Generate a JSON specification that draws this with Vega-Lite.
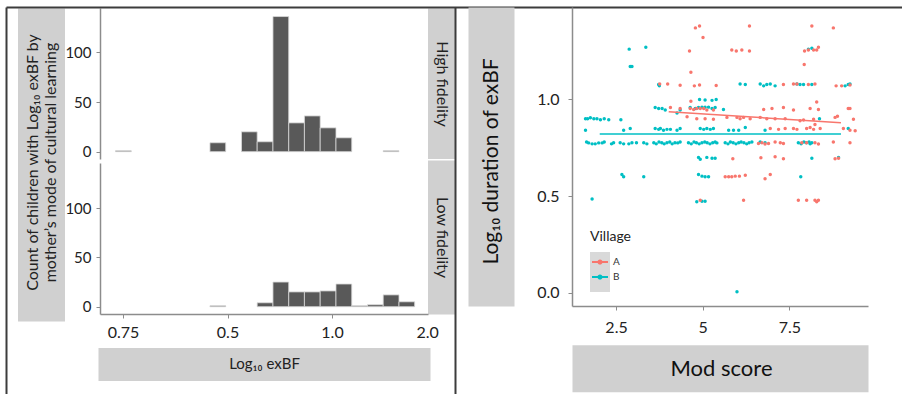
{
"$schema": "https://vega.github.io/schema/vega-lite/v6.json",
"background": "white",
"padding": {"left": 5, "top": -16, "right": 0, "bottom": 0},
"config": {"font": "Lato", "view": {"stroke": null}, "axis": {"grid": false}},
"datasets": {
"hist": [
{"panel":"High fidelity","lo":-0.072,"hi":0.079,"count":1},
{"panel":"High fidelity","lo":0.832,"hi":0.983,"count":9},
{"panel":"High fidelity","lo":1.134,"hi":1.284,"count":20},
{"panel":"High fidelity","lo":1.284,"hi":1.435,"count":10},
{"panel":"High fidelity","lo":1.435,"hi":1.586,"count":136},
{"panel":"High fidelity","lo":1.586,"hi":1.736,"count":29},
{"panel":"High fidelity","lo":1.736,"hi":1.887,"count":36},
{"panel":"High fidelity","lo":1.887,"hi":2.038,"count":24},
{"panel":"High fidelity","lo":2.038,"hi":2.189,"count":14},
{"panel":"High fidelity","lo":2.49,"hi":2.641,"count":1},
{"panel":"Low fidelity","lo":0.832,"hi":0.983,"count":1},
{"panel":"Low fidelity","lo":1.284,"hi":1.435,"count":4},
{"panel":"Low fidelity","lo":1.435,"hi":1.586,"count":25},
{"panel":"Low fidelity","lo":1.586,"hi":1.736,"count":15},
{"panel":"Low fidelity","lo":1.736,"hi":1.887,"count":15},
{"panel":"Low fidelity","lo":1.887,"hi":2.038,"count":16},
{"panel":"Low fidelity","lo":2.038,"hi":2.189,"count":23},
{"panel":"Low fidelity","lo":2.189,"hi":2.339,"count":1},
{"panel":"Low fidelity","lo":2.339,"hi":2.49,"count":2},
{"panel":"Low fidelity","lo":2.49,"hi":2.641,"count":12},
{"panel":"Low fidelity","lo":2.641,"hi":2.791,"count":5}
],
"fit": [
{"v":"A","m":4.02,"d":0.936},{"v":"A","m":8.99,"d":0.879},
{"v":"B","m":2.03,"d":0.821},{"v":"B","m":8.99,"d":0.821}
],
"keys": [
{"k":"a","m":-100,"d":0.5},{"k":"b","m":-100,"d":0.5}
],
"pts": [
{"v":"B","m":2.88,"d":1.26},{"v":"B","m":3.36,"d":1.27},{"v":"B","m":2.91,"d":1.17},{"v":"B","m":2.96,"d":1.17},
{"v":"B","m":1.62,"d":0.9},{"v":"B","m":1.68,"d":0.9},{"v":"B","m":1.76,"d":0.905},{"v":"B","m":1.86,"d":0.9},{"v":"B","m":1.95,"d":0.9},{"v":"B","m":2.05,"d":0.895},{"v":"B","m":2.16,"d":0.9},{"v":"B","m":2.29,"d":0.895},
{"v":"B","m":1.62,"d":0.84},{"v":"B","m":2.64,"d":0.895},{"v":"B","m":2.72,"d":0.84},{"v":"B","m":2.91,"d":0.85},
{"v":"B","m":1.65,"d":0.78},{"v":"B","m":1.71,"d":0.775},{"v":"B","m":1.81,"d":0.77},{"v":"B","m":1.9,"d":0.77},{"v":"B","m":2.0,"d":0.775},{"v":"B","m":2.1,"d":0.775},{"v":"B","m":2.16,"d":0.78},
{"v":"B","m":2.37,"d":0.77},{"v":"B","m":2.43,"d":0.776},{"v":"B","m":2.62,"d":0.776},{"v":"B","m":2.72,"d":0.77},{"v":"B","m":2.87,"d":0.77},{"v":"B","m":2.96,"d":0.776},{"v":"B","m":3.09,"d":0.776},{"v":"B","m":3.3,"d":0.776},{"v":"B","m":3.39,"d":0.77},
{"v":"B","m":3.59,"d":0.776},{"v":"B","m":3.66,"d":0.77},{"v":"B","m":3.74,"d":0.78},{"v":"B","m":3.82,"d":0.776},{"v":"B","m":3.89,"d":0.77},{"v":"B","m":3.97,"d":0.776},{"v":"B","m":4.05,"d":0.78},{"v":"B","m":4.12,"d":0.77},{"v":"B","m":4.2,"d":0.776},{"v":"B","m":4.28,"d":0.775},{"v":"B","m":4.35,"d":0.78},
{"v":"B","m":4.59,"d":0.776},{"v":"B","m":4.67,"d":0.77},{"v":"B","m":4.75,"d":0.78},{"v":"B","m":4.82,"d":0.776},{"v":"B","m":4.9,"d":0.77},{"v":"B","m":4.98,"d":0.776},{"v":"B","m":5.06,"d":0.78},{"v":"B","m":5.13,"d":0.776},{"v":"B","m":5.21,"d":0.77},{"v":"B","m":5.29,"d":0.776},{"v":"B","m":5.36,"d":0.78},{"v":"B","m":5.41,"d":0.775},
{"v":"B","m":5.65,"d":0.776},{"v":"B","m":5.73,"d":0.77},{"v":"B","m":5.8,"d":0.78},{"v":"B","m":5.88,"d":0.776},{"v":"B","m":5.96,"d":0.77},{"v":"B","m":6.04,"d":0.776},{"v":"B","m":6.11,"d":0.78},{"v":"B","m":6.19,"d":0.776},{"v":"B","m":6.27,"d":0.77},{"v":"B","m":6.34,"d":0.776},{"v":"B","m":6.42,"d":0.78},
{"v":"B","m":6.66,"d":0.78},{"v":"B","m":6.8,"d":0.776},
{"v":"B","m":7.76,"d":0.776},{"v":"B","m":7.84,"d":0.77},{"v":"B","m":7.92,"d":0.78},{"v":"B","m":7.99,"d":0.776},{"v":"B","m":8.07,"d":0.78},{"v":"B","m":8.15,"d":0.776},{"v":"B","m":8.1,"d":0.77},
{"v":"B","m":3.63,"d":0.85},{"v":"B","m":3.73,"d":0.845},{"v":"B","m":3.78,"d":0.85},{"v":"B","m":3.87,"d":0.84},{"v":"B","m":3.97,"d":0.845},{"v":"B","m":4.07,"d":0.845},{"v":"B","m":4.26,"d":0.84},{"v":"B","m":4.35,"d":0.85},{"v":"B","m":4.93,"d":0.85},{"v":"B","m":5.03,"d":0.845},{"v":"B","m":5.12,"d":0.85},{"v":"B","m":5.22,"d":0.845},{"v":"B","m":5.31,"d":0.85},{"v":"B","m":5.75,"d":0.84},{"v":"B","m":5.89,"d":0.84},{"v":"B","m":6.04,"d":0.84},{"v":"B","m":6.23,"d":0.855},{"v":"B","m":6.8,"d":0.84},{"v":"B","m":9.2,"d":0.85},
{"v":"B","m":3.63,"d":0.958},{"v":"B","m":3.73,"d":0.953},{"v":"B","m":3.83,"d":0.953},{"v":"B","m":3.92,"d":0.945},{"v":"B","m":4.26,"d":0.93},{"v":"B","m":4.35,"d":0.945},{"v":"B","m":4.64,"d":0.958},{"v":"B","m":4.79,"d":0.953},{"v":"B","m":4.88,"d":0.958},{"v":"B","m":4.98,"d":0.96},{"v":"B","m":5.07,"d":0.96},{"v":"B","m":5.17,"d":0.96},{"v":"B","m":5.27,"d":0.953},{"v":"B","m":5.36,"d":0.958},{"v":"B","m":5.6,"d":0.948},{"v":"B","m":8.37,"d":0.9},
{"v":"B","m":4.91,"d":1.0},{"v":"B","m":5.07,"d":0.997},{"v":"B","m":5.27,"d":0.995},{"v":"B","m":5.39,"d":1.0},
{"v":"B","m":3.73,"d":1.077},{"v":"B","m":3.75,"d":1.07},{"v":"B","m":6.08,"d":1.08},{"v":"B","m":6.23,"d":1.077},{"v":"B","m":6.66,"d":1.08},{"v":"B","m":6.76,"d":1.07},{"v":"B","m":6.85,"d":1.077},{"v":"B","m":6.95,"d":1.08},{"v":"B","m":7.09,"d":1.07},{"v":"B","m":7.72,"d":1.08},{"v":"B","m":7.81,"d":1.077},{"v":"B","m":7.91,"d":1.077},{"v":"B","m":8.15,"d":1.077},{"v":"B","m":9.11,"d":1.07},{"v":"B","m":9.2,"d":1.077},{"v":"B","m":9.25,"d":1.08},
{"v":"B","m":4.88,"d":0.7},{"v":"B","m":4.93,"d":0.69},{"v":"B","m":5.12,"d":0.7},{"v":"B","m":5.27,"d":0.695},{"v":"B","m":5.36,"d":0.695},{"v":"B","m":8.15,"d":0.695},{"v":"B","m":8.92,"d":0.7},
{"v":"B","m":2.67,"d":0.612},{"v":"B","m":2.72,"d":0.6},{"v":"B","m":3.3,"d":0.6},{"v":"B","m":4.88,"d":0.612},{"v":"B","m":4.98,"d":0.603},{"v":"B","m":5.07,"d":0.6},{"v":"B","m":5.17,"d":0.6},{"v":"B","m":7.83,"d":0.6},
{"v":"B","m":8.05,"d":1.26},{"v":"B","m":8.15,"d":1.265},
{"v":"B","m":1.81,"d":0.485},{"v":"B","m":4.83,"d":0.47},{"v":"B","m":4.98,"d":0.473},{"v":"B","m":5.07,"d":0.473},
{"v":"B","m":5.99,"d":0.005},
{"v":"A","m":4.79,"d":1.37},{"v":"A","m":4.91,"d":1.38},{"v":"A","m":5.01,"d":1.32},{"v":"A","m":6.35,"d":1.38},{"v":"A","m":8.15,"d":1.38},{"v":"A","m":8.77,"d":1.37},
{"v":"A","m":4.62,"d":1.25},{"v":"A","m":5.84,"d":1.255},{"v":"A","m":5.97,"d":1.25},{"v":"A","m":6.13,"d":1.255},{"v":"A","m":6.35,"d":1.25},{"v":"A","m":7.94,"d":1.25},{"v":"A","m":8.05,"d":1.255},{"v":"A","m":8.2,"d":1.255},{"v":"A","m":8.29,"d":1.255},{"v":"A","m":8.34,"d":1.27},
{"v":"A","m":4.66,"d":1.14},{"v":"A","m":7.93,"d":1.18},
{"v":"A","m":3.76,"d":1.08},{"v":"A","m":3.99,"d":1.08},{"v":"A","m":4.35,"d":1.073},{"v":"A","m":4.76,"d":1.07},{"v":"A","m":4.91,"d":1.075},{"v":"A","m":5.39,"d":1.072},{"v":"A","m":7.33,"d":1.077},{"v":"A","m":7.62,"d":1.08},{"v":"A","m":7.72,"d":1.08},{"v":"A","m":8.05,"d":1.077},{"v":"A","m":8.24,"d":1.08},{"v":"A","m":8.85,"d":1.07},{"v":"A","m":9.01,"d":1.07},{"v":"A","m":9.25,"d":1.075},
{"v":"A","m":4.66,"d":0.99},{"v":"A","m":8.29,"d":0.987},
{"v":"A","m":4.07,"d":0.958},{"v":"A","m":4.35,"d":0.953},{"v":"A","m":4.64,"d":0.953},{"v":"A","m":4.74,"d":0.948},{"v":"A","m":4.83,"d":0.953},{"v":"A","m":4.93,"d":0.953},{"v":"A","m":5.03,"d":0.953},{"v":"A","m":5.12,"d":0.945},{"v":"A","m":5.31,"d":0.945},{"v":"A","m":6.76,"d":0.948},{"v":"A","m":7.0,"d":0.953},{"v":"A","m":7.33,"d":0.958},{"v":"A","m":7.62,"d":0.945},{"v":"A","m":8.1,"d":0.953},{"v":"A","m":8.34,"d":0.948},{"v":"A","m":9.2,"d":0.953},{"v":"A","m":9.25,"d":0.953},
{"v":"A","m":4.55,"d":0.91},{"v":"A","m":4.83,"d":0.9},{"v":"A","m":5.07,"d":0.9},{"v":"A","m":5.31,"d":0.897},{"v":"A","m":5.7,"d":0.907},{"v":"A","m":5.99,"d":0.907},{"v":"A","m":6.08,"d":0.9},{"v":"A","m":6.18,"d":0.907},{"v":"A","m":6.37,"d":0.9},{"v":"A","m":6.66,"d":0.907},{"v":"A","m":6.85,"d":0.9},{"v":"A","m":7.09,"d":0.9},{"v":"A","m":7.38,"d":0.9},{"v":"A","m":7.81,"d":0.89},{"v":"A","m":7.91,"d":0.893},{"v":"A","m":8.2,"d":0.897},{"v":"A","m":8.24,"d":0.87},{"v":"A","m":8.82,"d":0.907},{"v":"A","m":8.89,"d":0.913},{"v":"A","m":9.35,"d":0.897},
{"v":"A","m":6.95,"d":0.85},{"v":"A","m":7.19,"d":0.845},{"v":"A","m":7.38,"d":0.85},{"v":"A","m":7.62,"d":0.85},{"v":"A","m":7.72,"d":0.845},{"v":"A","m":8.0,"d":0.85},{"v":"A","m":8.1,"d":0.855},{"v":"A","m":8.2,"d":0.845},{"v":"A","m":8.39,"d":0.85},{"v":"A","m":9.06,"d":0.85},{"v":"A","m":9.25,"d":0.84},{"v":"A","m":9.4,"d":0.838},
{"v":"A","m":6.61,"d":0.772},{"v":"A","m":6.71,"d":0.776},{"v":"A","m":6.8,"d":0.769},{"v":"A","m":6.9,"d":0.772},{"v":"A","m":7.09,"d":0.78},{"v":"A","m":7.24,"d":0.776},{"v":"A","m":7.33,"d":0.772},{"v":"A","m":7.86,"d":0.776},{"v":"A","m":8.0,"d":0.776},{"v":"A","m":8.24,"d":0.776},{"v":"A","m":8.34,"d":0.769},{"v":"A","m":8.77,"d":0.78},{"v":"A","m":9.25,"d":0.776},
{"v":"A","m":5.87,"d":0.693},{"v":"A","m":6.68,"d":0.698},{"v":"A","m":7.09,"d":0.703},{"v":"A","m":7.33,"d":0.693},{"v":"A","m":8.82,"d":0.693},{"v":"A","m":8.92,"d":0.695},
{"v":"A","m":5.65,"d":0.6},{"v":"A","m":5.75,"d":0.6},{"v":"A","m":5.84,"d":0.6},{"v":"A","m":5.94,"d":0.603},{"v":"A","m":6.06,"d":0.603},{"v":"A","m":6.23,"d":0.608},{"v":"A","m":6.8,"d":0.59},{"v":"A","m":6.95,"d":0.612},
{"v":"A","m":4.93,"d":0.478},{"v":"A","m":6.18,"d":0.478},{"v":"A","m":7.76,"d":0.478},{"v":"A","m":8.0,"d":0.478},{"v":"A","m":8.24,"d":0.478},{"v":"A","m":8.29,"d":0.47},{"v":"A","m":8.34,"d":0.478}
]
},
"bounds": "flush",
"spacing": 117,
"hconcat": [
{
"width": 449, "height": 387,
"resolve": {"scale": {"y": "independent"}, "axis": {"x": "independent", "y": "independent"}},
"layer": [
{
"data": {"name": "hist"},
"transform": [{"filter": "datum.panel == 'High fidelity'"}],
"mark": {"type": "bar", "fill": "#595959", "stroke": "#d9d9d9", "strokeWidth": 0.8},
"encoding": {
"x": {"field": "lo", "type": "quantitative", "scale": {"domain": [-1.1196, 3.177], "nice": false, "zero": false},
 "axis": {"orient": "bottom", "offset": -235, "values": [-0.22], "domain": false, "labels": false, "tickSize": -151, "tickWidth": 1.5, "tickColor": "#8c8c8c", "title": null, "grid": false}},
"x2": {"field": "hi"},
"y": {"field": "count", "type": "quantitative", "scale": {"domain": [-243.8, 145.6], "nice": false, "zero": false},
 "axis": {"orient": "left", "offset": -94, "values": [0, 50, 100], "domain": false, "tickSize": 4, "tickColor": "#8c8c8c", "labelFontSize": 15, "labelColor": "#222222", "labelPadding": 5, "title": null, "grid": false}},
"y2": {"datum": 0}
}
},
{
"data": {"name": "hist"},
"transform": [{"filter": "datum.panel == 'Low fidelity'"}],
"mark": {"type": "bar", "fill": "#595959", "stroke": "#d9d9d9", "strokeWidth": 0.8},
"encoding": {
"x": {"field": "lo", "type": "quantitative",
 "axis": {"orient": "bottom", "offset": -80, "values": [0, 1, 2, 2.91], "domain": false, "tickSize": 4, "tickColor": {"condition": {"test": "datum.value > 2.5", "value": "transparent"}, "value": "#8c8c8c"}, "labelExpr": "datum.value == 0 ? '0.75' : datum.value == 1 ? '0.5' : datum.value == 2 ? '1.0' : '2.0'", "labelFontSize": 16, "labelColor": "#222222", "labelPadding": 6, "labelFlush": false, "labelOverlap": false, "title": null, "grid": false}},
"x2": {"field": "hi"},
"y": {"field": "count", "type": "quantitative", "scale": {"domain": [-88.4, 303.6], "nice": false, "zero": false},
 "axis": {"orient": "left", "offset": -94, "values": [0, 50, 100], "domain": false, "tickSize": 4, "tickColor": "#8c8c8c", "labelFontSize": 15, "labelColor": "#222222", "labelPadding": 5, "title": null, "grid": false}},
"y2": {"datum": 0}
}
},
{
"data": {"values": [{"g": 0, "f": 0.5}]},
"mark": {"type": "point", "opacity": 0},
"encoding": {
"x": {"field": "g", "type": "quantitative",
 "axis": {"orient": "bottom", "offset": -80, "values": [-0.22], "domain": false, "labels": false, "tickSize": -151, "tickWidth": 1.5, "tickColor": "#8c8c8c", "title": null, "grid": false}},
"y": {"field": "f", "type": "quantitative", "scale": {"domain": [0, 1], "nice": false, "zero": false},
 "axis": {"orient": "left", "offset": -94, "values": [0.2067], "domain": false, "labels": false, "tickSize": -328, "tickWidth": 1.5, "tickColor": "#8c8c8c", "title": null, "grid": false}}
}
},
{
"data": {"values": [{"g": 0, "f": 0.5}]},
"mark": {"type": "point", "opacity": 0},
"encoding": {
"x": {"field": "g", "type": "quantitative",
 "axis": {"orient": "bottom", "offset": -73, "values": [-0.7799], "domain": false, "labels": false, "tickSize": -313, "tickWidth": 47, "tickColor": "#d0d0d0",
  "title": ["Count of children with Log₁₀ exBF by", "mother’s mode of cultural learning"], "titleX": 26.5, "titleY": -159, "titleAngle": 270, "titleAlign": "center", "titleBaseline": "middle", "titleFontSize": 16, "titleFontWeight": "normal", "titleColor": "#222222", "titleLineHeight": 18, "grid": false}},
"y": {"field": "f", "type": "quantitative", "scale": {"domain": [0, 1], "nice": false, "zero": false},
 "axis": {"orient": "left", "offset": -92, "values": [0.0788], "domain": false, "labels": false, "tickSize": -332, "tickWidth": 33, "tickColor": "#d0d0d0",
  "title": "Log₁₀ exBF", "titleX": 166, "titleY": 356.5, "titleAngle": 0, "titleAlign": "center", "titleBaseline": "middle", "titleFontSize": 15, "titleFontWeight": "normal", "titleColor": "#222222", "grid": false}}
}
},
{
"data": {"values": [{"g": 0, "f": 0.5}]},
"mark": {"type": "point", "opacity": 0},
"encoding": {
"x": {"field": "g", "type": "quantitative",
 "axis": {"orient": "bottom", "offset": -235.5, "values": [3.0478], "domain": false, "labels": false, "tickSize": -150.5, "tickWidth": 27, "tickColor": "#d0d0d0",
  "title": "High fidelity", "titleX": 435.5, "titleY": -75, "titleAngle": 90, "titleAlign": "center", "titleBaseline": "middle", "titleFontSize": 16, "titleFontWeight": "normal", "titleColor": "#222222", "grid": false}},
"y": {"field": "f", "type": "quantitative", "scale": {"domain": [0, 1], "nice": false, "zero": false},
 "axis": {"orient": "left", "offset": 0, "values": [1], "domain": false, "labels": false, "tickSize": -896, "tickWidth": 2, "tickColor": "#3c3c3c", "title": null, "grid": false}}
}
},
{
"data": {"values": [{"g": 0, "f": 0.5}]},
"mark": {"type": "point", "opacity": 0},
"encoding": {
"x": {"field": "g", "type": "quantitative",
 "axis": {"orient": "bottom", "offset": -80, "values": [3.0478], "domain": false, "labels": false, "tickSize": -154, "tickWidth": 27, "tickColor": "#d0d0d0",
  "title": "Low fidelity", "titleX": 435.5, "titleY": -77, "titleAngle": 90, "titleAlign": "center", "titleBaseline": "middle", "titleFontSize": 16, "titleFontWeight": "normal", "titleColor": "#222222", "grid": false}},
"y": {"field": "f", "type": "quantitative", "scale": {"domain": [0, 1], "nice": false, "zero": false}, "axis": null}
}
},
{
"data": {"values": [{"g": 0, "f": 0.5}]},
"mark": {"type": "point", "opacity": 0},
"encoding": {
"x": {"field": "g", "type": "quantitative",
 "axis": {"orient": "bottom", "offset": 0, "values": [-1.1196, 3.177], "domain": false, "labels": false, "tickSize": -387, "tickWidth": 2, "tickColor": "#3c3c3c", "title": null, "grid": false}},
"y": {"field": "f", "type": "quantitative", "scale": {"domain": [0, 1], "nice": false, "zero": false}, "axis": null}
}
}
]
},
{
"width": 296, "height": 299,
"resolve": {"axis": {"x": "independent", "y": "independent"}},
"layer": [
{
"data": {"name": "keys"},
"mark": {"type": "point", "filled": true, "color": "#d9d9d9", "clip": true},
"encoding": {
"x": {"field": "m", "type": "quantitative", "axis": null},
"y": {"field": "d", "type": "quantitative", "axis": null},
"shape": {"field": "k", "type": "nominal", "scale": {"domain": ["a", "b"], "range": ["square", "square"]},
 "legend": {"title": "Village", "orient": "none", "legendX": 584, "legendY": 223, "zindex": 0, "titleFontSize": 14, "titleFontWeight": "normal", "titleColor": "transparent", "titlePadding": 8, "labelFontSize": 10, "labelColor": "transparent", "labelOffset": 3, "symbolSize": 400, "symbolFillColor": "#d9d9d9", "symbolStrokeColor": "#d9d9d9", "symbolStrokeWidth": 0, "symbolOpacity": 1, "rowPadding": 0, "padding": 0}}
}
},
{
"data": {"name": "pts"},
"mark": {"type": "circle", "size": 12, "opacity": 1},
"encoding": {
"x": {"field": "m", "type": "quantitative", "scale": {"domain": [1.23, 9.77], "nice": false, "zero": false},
 "axis": {"orient": "bottom", "values": [2.5, 5, 7.5], "labelExpr": "datum.value == 5 ? '5' : format(datum.value, '.1f')", "domainColor": "#8c8c8c", "domainWidth": 1.5, "tickColor": "#8c8c8c", "tickSize": 4, "labelFontSize": 16, "labelColor": "#222222", "labelPadding": 9, "title": null, "grid": false}},
"y": {"field": "d", "type": "quantitative", "scale": {"domain": [-0.0688, 1.478], "nice": false, "zero": false},
 "axis": {"orient": "left", "values": [0, 0.5, 1], "format": ".1f", "domainColor": "#8c8c8c", "domainWidth": 1.5, "tickColor": "#8c8c8c", "tickSize": 4, "labelFontSize": 16, "labelColor": "#222222", "labelPadding": 9, "title": null, "grid": false}},
"color": {"field": "v", "type": "nominal", "scale": {"domain": ["A", "B"], "range": ["#F8766D", "#00BFC4"]},
 "legend": {"title": "Village", "orient": "none", "legendX": 584, "legendY": 223, "zindex": 1, "titleFontSize": 14, "titleFontWeight": "normal", "titleColor": "#222222", "titlePadding": 8, "labelFontSize": 10, "labelColor": "#333333", "labelOffset": 3, "symbolType": "M-0.8,-0.1L0.8,-0.1L0.8,0.1L-0.8,0.1Z M0.26,0A0.26,0.26,0,1,1,-0.26,0A0.26,0.26,0,1,1,0.26,0Z", "symbolSize": 400, "symbolStrokeWidth": 0, "rowPadding": 0, "padding": 0}}
}
},
{
"data": {"name": "fit"},
"mark": {"type": "line", "strokeWidth": 1.5},
"encoding": {
"x": {"field": "m", "type": "quantitative", "axis": null},
"y": {"field": "d", "type": "quantitative", "axis": null},
"color": {"field": "v", "type": "nominal", "legend": null}
}
},
{
"data": {"values": [{"m": 5, "d": 0.5}]},
"mark": {"type": "point", "opacity": 0},
"encoding": {
"x": {"field": "m", "type": "quantitative",
 "axis": {"orient": "bottom", "offset": 62.3, "domainWidth": 47, "domainColor": "#d0d0d0", "ticks": false, "labels": false, "title": "Mod score", "titleX": 149, "titleY": 0, "titleAlign": "center", "titleBaseline": "middle", "titleFontSize": 22, "titleFontWeight": "normal", "titleColor": "#111111", "grid": false}},
"y": {"field": "d", "type": "quantitative",
 "axis": {"orient": "left", "offset": 81, "domainWidth": 46, "domainColor": "#d0d0d0", "ticks": false, "labels": false, "title": "Log₁₀ duration of exBF", "titleX": 0, "titleY": 154, "titleAngle": 270, "titleAlign": "center", "titleBaseline": "middle", "titleFontSize": 21, "titleFontWeight": "normal", "titleColor": "#111111", "grid": false}}
}
}
]
}
]
}
